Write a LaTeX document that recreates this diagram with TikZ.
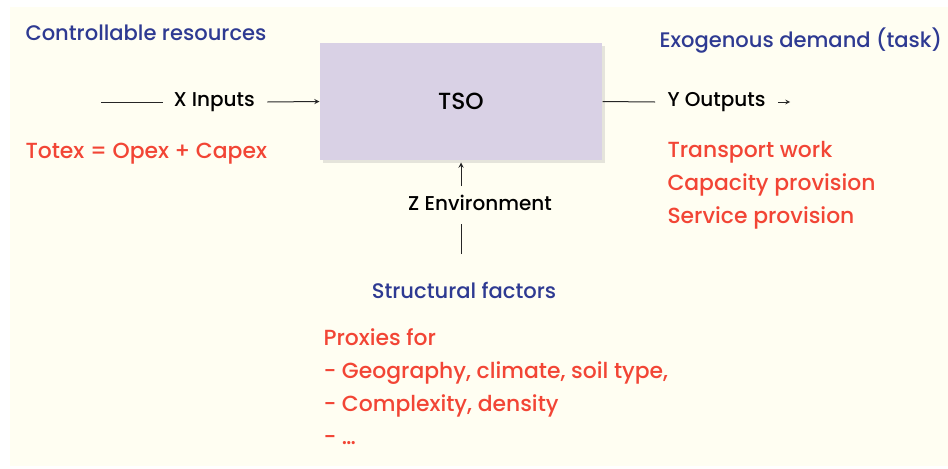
\documentclass[tikz,border=0pt]{standalone}
\usepackage{fontspec}
\setmainfont{Poppins}[UprightFont={* Medium}]
\usetikzlibrary{positioning}
\usetikzlibrary{arrows}
\usetikzlibrary{shadows}
\definecolor{bgcream}{HTML}{FFFEF2}
\definecolor{tsofill}{HTML}{D9D1E5}
\definecolor{hdblue}{HTML}{2E3A92}
\definecolor{itemred}{HTML}{F24535}

\begin{document}
\begin{tikzpicture}[x=0.75pt, y=-0.75pt, ->, >=stealth, draw=black!85, line width=0.75pt]
    \tikzstyle{tso}=[draw=none,rectangle,fill=tsofill,minimum width=211.5pt,minimum height=87.75pt,inner sep=0pt,drop shadow={opacity=0.2,shadow xshift=2pt,shadow yshift=-2pt}]
    \tikzstyle{flow}=[inner sep=0pt,font=\fontsize{15}{18}\selectfont,text=black]
    \tikzstyle{head}=[inner sep=0pt,font=\fontsize{15.8}{19}\selectfont,text=hdblue]
    \tikzstyle{item}=[inner sep=0pt,align=left,font=\fontsize{16.4}{24.75}\selectfont,text=itemred]

    \useasboundingbox (0,0) rectangle (948,468);
    \fill[bgcream] (10,7) rectangle (948,466);

    % main block
	\node[tso] (TSO) at (461,101.5) {\fontsize{17.5}{20}\selectfont TSO};

    % inputs
    \node[flow, anchor=west] (xin) at (173,102) {X Inputs};
	\coordinate (xc) at (101,102);
	\path (xc) edge[-] ([xshift=-7.5pt]xin.west);
	\path ([xshift=9pt]xin.east) edge (TSO.west);
    \node[head, anchor=base west] (ctrl) at (25,40) {Controllable resources};
    \node[item, anchor=base west] (totex) at (25,158) {Totex = Opex + Capex};

    % outputs
    \node[flow, anchor=west] (yout) at (667,102) {Y Outputs};
	\path (TSO.east) edge[-] ([xshift=-9pt]yout.west);
	\coordinate[right=9pt of yout.east] (yc1);
	\coordinate[right=9pt of yc1] (yc2);
	\path (yc1) edge[line width=0.6pt] (yc2);
    \node[head, anchor=base west] (exo) at (659,47) {Exogenous demand (task)};
    \node[item, anchor=base west] (task) at (667,223) {Transport work\\Capacity provision\\Service provision};

    % environment
    \node[flow] (zenv) at (480,203) {Z Environment};
	\coordinate (zc1) at (TSO.south |- 0,186);
	\coordinate (zc2) at (TSO.south |- 0,224);
	\coordinate (zc3) at (TSO.south |- 0,254);
	\path (zc1) edge ([yshift=-1.5pt]TSO.south);
	\path (zc3) edge[-] (zc2);
    \node[head, anchor=base] (struct) at (464,298) {Structural factors};
    \node[item, anchor=base west] (proxy) at (323,444) {Proxies for\\- Geography, climate, soil type,\\- Complexity, density\\- \dots};
\end{tikzpicture}
\end{document}
